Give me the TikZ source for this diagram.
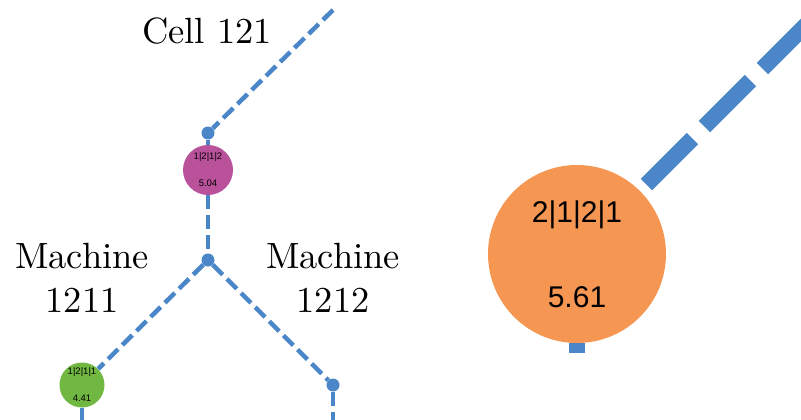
\documentclass[tikz,border=0pt]{standalone}
\usepackage{fontspec}
\newfontfamily\valfont{Liberation Sans}
\definecolor{linkblue}{RGB}{74,134,200}
\definecolor{cellpurple}{RGB}{185,82,155}
\definecolor{cellgreen}{RGB}{112,184,65}
\definecolor{cellorange}{RGB}{245,150,82}

\begin{document}
\begin{tikzpicture}
[x=1pt,y=-1pt,%
  link/.style={linkblue,line width=4.5pt,dash pattern=on 14pt off 6pt},%
  fatlink/.style={linkblue,line width=16pt,dash pattern=on 65pt off 17pt,dash phase=73pt},%
  joint/.style={circle,fill=linkblue,inner sep=0pt,minimum size=13pt},%
  state/.style={circle,inner sep=0pt,align=center,font=\valfont\fontsize{9.5}{27}\selectfont},%
  title/.style={align=center,scale=3.65,font=\fontsize{10}{12.05}\selectfont}]
\clip (0,0) rectangle (801,420);
% left part of the tree
\coordinate (up) at (333,10);
\node[joint] (j121) at (208,133) {};
\node[state,fill=cellpurple,minimum size=50pt] (s1212) at (208,170) {1|2|1|2\\5.04};
\node[joint] (j1212) at (208,260) {};
\node[state,fill=cellgreen,minimum size=45pt] (s1211) at (82,385) {1|2|1|1\\4.41};
\node[joint] (m2) at (333,385) {};
\coordinate (down1) at (82,424);
\coordinate (down2) at (333,424);
\draw[link] (up) -- (j121);
\draw[link] (j121) -- (s1212);
\draw[link] (s1212) -- (j1212);
\draw[link] (j1212) -- (s1211);
\draw[link] (j1212) -- (m2);
\draw[link] (s1211) -- (down1);
\draw[link] (m2) -- (down2);
\node[title] (cell) at (207,31) {Cell 121};
\node[title] (mach1) at (82,278) {Machine\\1211};
\node[title] (mach2) at (333,278) {Machine\\1212};
% enlarged node on the right
\node[state,fill=cellorange,minimum size=178pt,font=\valfont\fontsize{30}{85}\selectfont]
  (s2121) at (577,254) {2|1|2|1\\5.61};
\coordinate (corner) at (840,-9);
\coordinate (stub) at (577,353);
\draw[fatlink] (s2121) -- (corner);
\draw[fatlink,dash phase=0pt] (s2121) -- (stub);
\end{tikzpicture}
\end{document}
